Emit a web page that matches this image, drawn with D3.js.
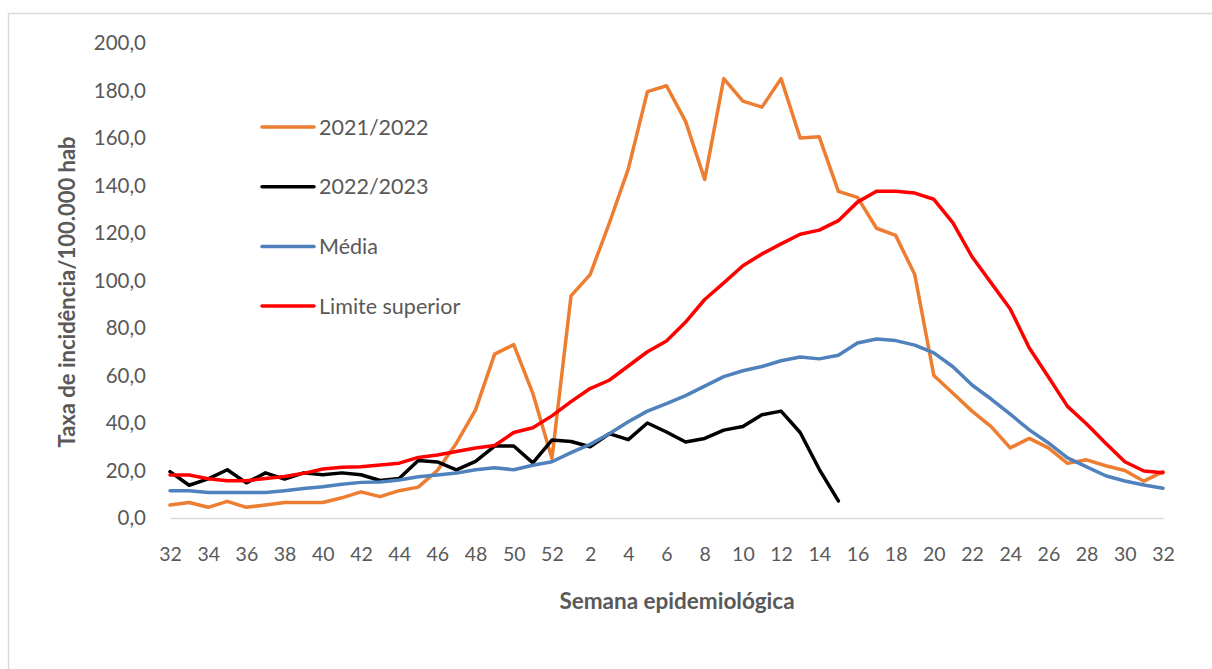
<!DOCTYPE html>
<html>
<head>
<meta charset="utf-8">
<script src="https://cdn.jsdelivr.net/npm/d3@7"></script>
<style>
  body { margin: 0; background: #fff; }
  text { font-family: Lato, "Open Sans", sans-serif; }
</style>
</head>
<body>
<div id="chart"></div>
<script>
// epidemiological weeks 32..52 then 1..32
var weeks = d3.range(32, 53).concat(d3.range(1, 33));

var serie2122 = [5.5, 6.5, 4.5, 7, 4.5, 5.5, 6.5, 6.5, 6.5, 8.5, 11, 9, 11.5, 13, 20, 31.5, 45.5, 69, 73, 52.5, 25,
  93.5, 102.5, 124, 147, 179.5, 182, 167, 142.5, 185, 175.5, 173, 185, 160, 160.5, 137.5, 135, 122, 119, 102.5,
  60, 52.5, 45, 38.5, 29.5, 33.5, 29.5, 23, 24.5, 22, 20, 15.5, 19.5];

var serie2223 = [19.5, 13.8, 16.5, 20.3, 14.8, 19, 16.4, 19, 18.2, 19, 18.2, 15.8, 16.6, 24.2, 23.6, 20.3, 23.8, 30.3, 30.3, 23.2, 32.8,
  32.2, 30, 35.5, 33, 40, 36.2, 32, 33.5, 37, 38.5, 43.5, 45, 36, 20.5, 7.2];

var media = [11.5, 11.5, 10.7, 10.7, 10.7, 10.7, 11.5, 12.4, 13.2, 14.2, 15, 15.2, 16, 17.4, 18.1, 18.9, 20.3, 21.2, 20.3, 22.2, 23.7,
  27.5, 31, 35.5, 40.5, 45, 48.2, 51.5, 55.5, 59.5, 62, 63.8, 66.2, 67.8, 67, 68.5, 73.7, 75.4, 74.7, 72.8,
  69.5, 63.7, 56, 50.1, 43.7, 37.1, 31.6, 25.3, 21.5, 17.8, 15.6, 13.9, 12.5];

var limiteSuperior = [18.1, 18.1, 16.5, 15.7, 15.7, 16.6, 17.5, 18.8, 20.6, 21.4, 21.6, 22.3, 23.1, 25.5, 26.5, 28, 29.5, 30.5, 36, 38, 43,
  49, 54.5, 58, 64, 70, 74.5, 82.5, 92, 99, 106.2, 111.2, 115.4, 119.5, 121.2, 125.2, 133, 137.6, 137.6, 136.8,
  134.2, 124.3, 110, 99, 88, 71.6, 59.4, 47, 39.6, 31.5, 23.7, 19.8, 19.1];

var yTicks = [0, 20, 40, 60, 80, 100, 120, 140, 160, 180, 200];

var series = [
  {name: "2021/2022", values: serie2122, color: "#ED7D31"},
  {name: "2022/2023", values: serie2223, color: "#000000"},
  {name: "Média", values: media, color: "#4F81BD"},
  {name: "Limite superior", values: limiteSuperior, color: "#FF0000"}
];

var W = 1212, H = 669;
var svg = d3.select("#chart").append("svg")
  .attr("width", W).attr("height", H);

// chart frame (cut by page edges)
svg.append("rect")
  .attr("x", 8.5).attr("y", 13.5)
  .attr("width", 1230).attr("height", 700)
  .attr("fill", "none")
  .attr("stroke", "#d9d9d9")
  .attr("stroke-width", 1.5);

var x = d3.scalePoint()
  .domain(d3.range(weeks.length))
  .range([170, 1163]);

var y = d3.scaleLinear()
  .domain([0, 200])
  .range([518, 43]);

var fmt = d3.format(".1f");

// Y axis (labels only)
var yAxis = svg.append("g")
  .attr("transform", "translate(146,0)")
  .call(d3.axisLeft(y).tickValues(yTicks).tickSize(0).tickPadding(0)
    .tickFormat(d => fmt(d).replace(".", ",")));
yAxis.select(".domain").remove();
yAxis.selectAll("text")
  .attr("fill", "#595959")
  .style("font-size", "20.5px")
  .style("font-family", "Lato, sans-serif");

// X axis
var xAxis = svg.append("g")
  .attr("transform", "translate(0,518)")
  .call(d3.axisBottom(x)
    .tickValues(d3.range(0, weeks.length, 2))
    .tickSize(0).tickPadding(29)
    .tickFormat(i => weeks[i]));
xAxis.select(".domain")
  .attr("stroke", "#d9d9d9")
  .attr("stroke-width", 1.5);
xAxis.selectAll("text")
  .attr("fill", "#595959")
  .style("font-size", "19.5px")
  .style("font-family", "Lato, sans-serif");

// axis titles
svg.append("text")
  .attr("transform", "translate(75,292) rotate(-90)")
  .attr("text-anchor", "middle")
  .attr("fill", "#595959")
  .style("font-size", "22px")
  .style("font-weight", "bold")
  .text("Taxa de incidência/100.000 hab");

svg.append("text")
  .attr("x", 677).attr("y", 609)
  .attr("text-anchor", "middle")
  .attr("fill", "#595959")
  .style("font-size", "22.5px")
  .style("font-weight", "bold")
  .text("Semana epidemiológica");

// lines
var line = d3.line()
  .x((d, i) => x(i))
  .y(d => y(d));

svg.append("g")
  .selectAll("path")
  .data(series)
  .join("path")
  .attr("d", d => line(d.values))
  .attr("fill", "none")
  .attr("stroke", d => d.color)
  .attr("stroke-width", 3.5)
  .attr("stroke-linejoin", "round")
  .attr("stroke-linecap", "round");

// legend
var legend = svg.append("g")
  .selectAll("g")
  .data(series)
  .join("g")
  .attr("transform", (d, i) => `translate(262,${127 + i * 59.7})`);

legend.append("line")
  .attr("x1", 0).attr("x2", 52)
  .attr("stroke", d => d.color)
  .attr("stroke-width", 3.5)
  .attr("stroke-linecap", "round");

legend.append("text")
  .attr("x", 57).attr("y", 0)
  .attr("dy", "0.35em")
  .attr("fill", "#595959")
  .style("font-size", "21.5px")
  .text(d => d.name);
</script>
</body>
</html>
